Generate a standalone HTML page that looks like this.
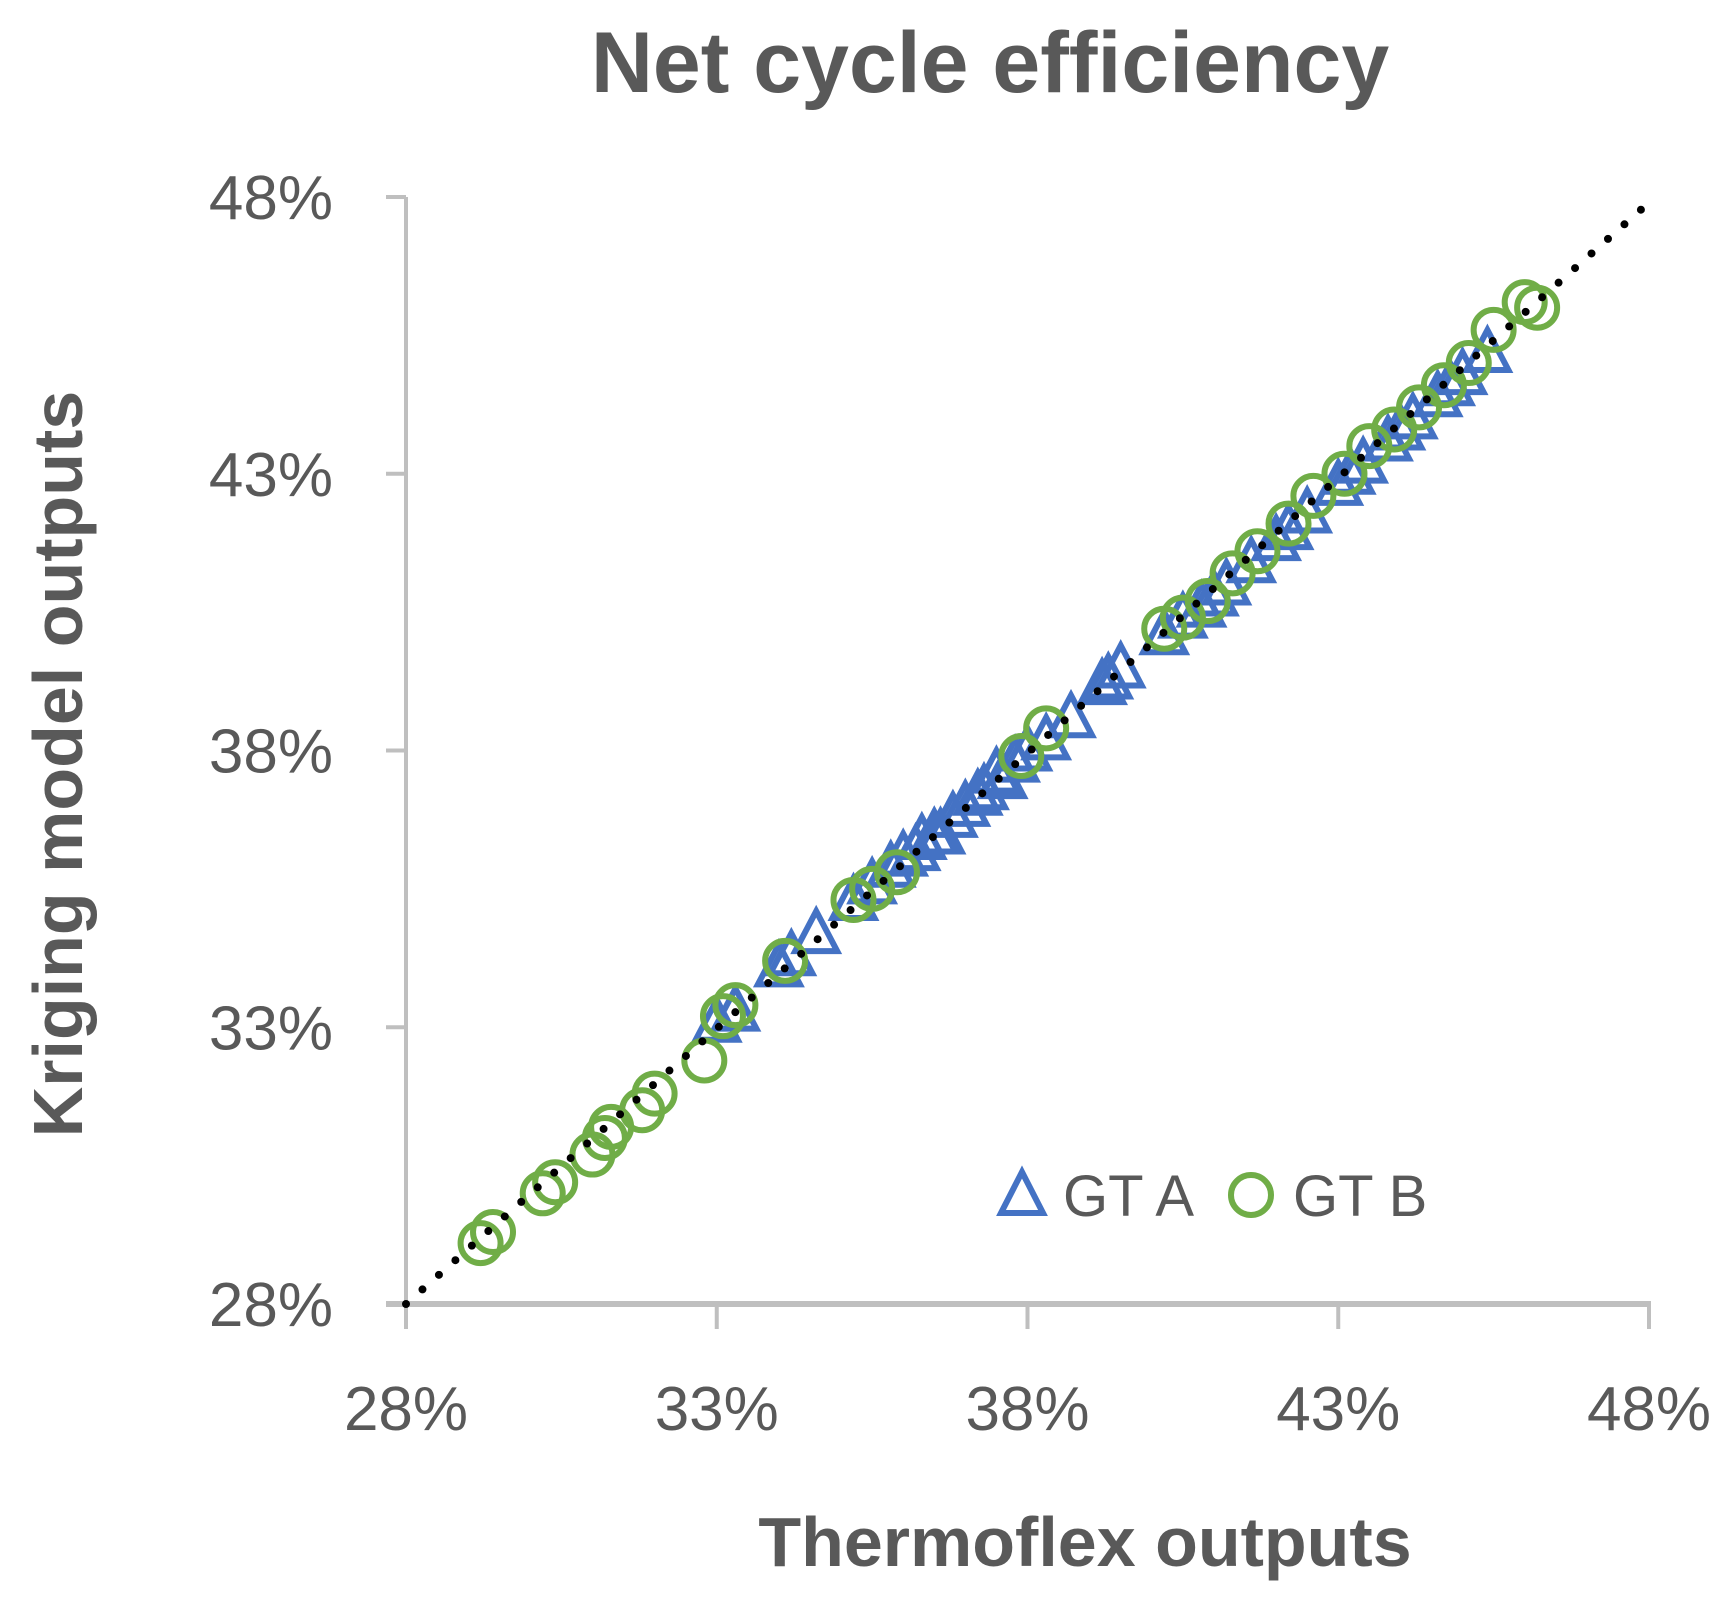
<!DOCTYPE html>
<html><head><meta charset="utf-8"><style>
body{margin:0;background:#fff;}
svg{display:block;font-family:"Liberation Sans",sans-serif;}
</style></head><body>
<svg id="chart" width="1727" height="1601" viewBox="0 0 1727 1601">
<text x="990" y="92" text-anchor="middle" font-size="86" font-weight="bold" fill="#595959">Net cycle efficiency</text>
<text transform="translate(82,764) rotate(-90)" text-anchor="middle" font-size="70" font-weight="bold" fill="#595959">Kriging model outputs</text>
<text x="1085" y="1566" text-anchor="middle" font-size="70" font-weight="bold" fill="#595959">Thermoflex outputs</text>
<g id="axes"></g>
<g id="marks"></g>
<g>
<polygon points="1022,1172 1043,1213 1001,1213" fill="none" stroke="#4472c4" stroke-width="6"/>
<text x="1063" y="1216" font-size="58" fill="#595959">GT A</text>
<circle cx="1251" cy="1195" r="20" fill="none" stroke="#70ad47" stroke-width="6"/>
<text x="1293" y="1216" font-size="58" fill="#595959">GT B</text>
</g>
</svg>
<script>
const ticks=[28,33,38,43,48];
const tickLabels=["28%","33%","38%","43%","48%"];
const gtAx=[33.0,33.3,34.0,34.2,34.6,35.2,35.5,35.8,36.0,36.3,36.5,36.8,37.0,37.2,37.5,37.8,38.0,38.3,38.7,39.2,39.5,40.2,40.5,40.8,41.2,41.6,42.0,42.5,43.0,43.4,43.8,44.2,44.6,45.0,45.4,36.2,36.6,37.3,37.6,39.3,41.0,42.2,43.2,44.0,44.8];
const gtAy=[33.1,33.3,34.1,34.3,34.7,35.3,35.6,35.9,36.1,36.4,36.5,36.8,37.0,37.2,37.6,37.8,38.0,38.2,38.6,39.2,39.5,40.1,40.4,40.6,41.0,41.4,41.8,42.3,42.8,43.2,43.6,44.0,44.4,44.8,45.2,36.2,36.5,37.3,37.5,39.3,40.8,42.0,43.0,43.8,44.6];
const gtBx=[29.2,29.4,30.2,30.4,31.0,31.2,31.3,31.8,32.0,32.8,33.1,33.3,34.1,35.2,35.5,35.9,37.9,38.3,40.2,40.5,40.9,41.3,41.7,42.2,42.6,43.1,43.5,43.9,44.3,44.7,45.1,45.5,46.0,46.2];
const gtBy=[29.1,29.3,30.0,30.2,30.7,31.0,31.2,31.5,31.8,32.4,33.2,33.4,34.2,35.3,35.5,35.8,37.9,38.4,40.2,40.4,40.7,41.2,41.6,42.1,42.6,43.0,43.5,43.8,44.2,44.6,45.0,45.6,46.1,46.0];
const X0=406,X1=1649,Y0=1304,Y1=197;
const sx=v=>X0+(v-28)/20*(X1-X0);
const sy=v=>Y0-(v-28)/20*(Y0-Y1);
const NS="http://www.w3.org/2000/svg";
function mk(tag,attrs,parent){const e=document.createElementNS(NS,tag);for(const k in attrs)e.setAttribute(k,attrs[k]);parent.appendChild(e);return e;}
const ax=document.getElementById('axes'),mg=document.getElementById('marks');
let e;
e=mk('line',{x1:X0,y1:Y1,x2:X0,y2:Y0,stroke:'#bfbfbf','stroke-width':4},ax);


e=mk('line',{x1:X0-20,y1:Y0,x2:X1+2,y2:Y0,stroke:'#bfbfbf','stroke-width':6},ax);


ticks.forEach((t,i)=>{
  e=mk('line',{x1:X0-20,y1:sy(t),x2:X0,y2:sy(t),stroke:'#bfbfbf','stroke-width':4},ax);
  
  
  e=mk('line',{x1:sx(t),y1:Y0,x2:sx(t),y2:Y0+25,stroke:'#bfbfbf','stroke-width':4},ax);
  
  
  e=mk('text',{x:333,y:sy(t)+22,'text-anchor':'end','font-size':62,fill:'#595959'},ax);
  e.textContent=tickLabels[i];
  
  
  e=mk('text',{x:sx(t),y:1430,'text-anchor':'middle','font-size':62,fill:'#595959'},ax);
  e.textContent=tickLabels[i];
  
  
});
gtAx.forEach((v,i)=>{
  const cx=sx(v),cy=sy(gtAy[i]);
  e=mk('polygon',{points:`${cx},${cy-22} ${cx+21},${cy+18} ${cx-21},${cy+18}`,fill:'none',stroke:'#4472c4','stroke-width':6},mg);
  
  
});
gtBx.forEach((v,i)=>{
  e=mk('circle',{cx:sx(v),cy:sy(gtBy[i]),r:20,fill:'none',stroke:'#70ad47','stroke-width':6},mg);
  
  
});
e=mk('line',{x1:sx(28),y1:sy(28),x2:sx(48),y2:sy(47.9),stroke:'#000','stroke-width':8,'stroke-linecap':'round','stroke-dasharray':'0 22'},mg);


</script>
</body></html>
